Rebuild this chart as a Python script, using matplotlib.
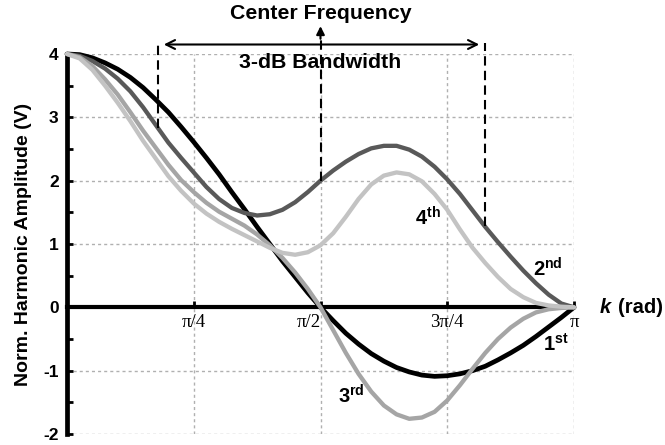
import numpy as np
import matplotlib
matplotlib.use('Agg')
import matplotlib.pyplot as plt
from matplotlib.transforms import blended_transform_factory

# ---------------- data (k in units of pi) ----------------
k_over_pi = [0.000, 0.025, 0.050, 0.075, 0.100, 0.125, 0.150, 0.175, 0.200, 0.225,
             0.250, 0.275, 0.300, 0.325, 0.350, 0.375, 0.400, 0.425, 0.450, 0.475,
             0.500, 0.525, 0.550, 0.575, 0.600, 0.625, 0.650, 0.675, 0.700, 0.725,
             0.750, 0.775, 0.800, 0.825, 0.850, 0.875, 0.900, 0.925, 0.950, 0.975, 1.000]

h1 = [4.00, 3.99, 3.94, 3.86, 3.76, 3.63, 3.47, 3.28, 3.08, 2.85,
      2.61, 2.36, 2.10, 1.82, 1.55, 1.27, 1.00, 0.73, 0.48, 0.23,
      0.00, -0.21, -0.41, -0.58, -0.73, -0.85, -0.95, -1.02, -1.07, -1.09,
      -1.08, -1.05, -1.00, -0.93, -0.83, -0.72, -0.60, -0.46, -0.31, -0.16, 0.00]

h2 = [4.00, 3.97, 3.89, 3.77, 3.61, 3.41, 3.16, 2.88, 2.60, 2.36,
      2.13, 1.90, 1.71, 1.57, 1.49, 1.45, 1.47, 1.54, 1.66, 1.82,
      2.00, 2.16, 2.30, 2.42, 2.51, 2.55, 2.55, 2.49, 2.38, 2.22,
      2.02, 1.79, 1.53, 1.27, 1.03, 0.80, 0.58, 0.38, 0.20, 0.06, 0.00]

h3 = [4.00, 3.95, 3.81, 3.60, 3.36, 3.08, 2.79, 2.52, 2.25, 2.01,
      1.82, 1.65, 1.51, 1.40, 1.29, 1.15, 0.98, 0.78, 0.55, 0.29,
      0.00, -0.36, -0.72, -1.05, -1.33, -1.55, -1.69, -1.76, -1.74, -1.65,
      -1.47, -1.23, -0.97, -0.72, -0.50, -0.32, -0.18, -0.08, -0.03, -0.01, 0.00]

h4 = [4.00, 3.93, 3.75, 3.50, 3.23, 2.94, 2.63, 2.35, 2.07, 1.84,
      1.64, 1.48, 1.35, 1.24, 1.14, 1.04, 0.94, 0.86, 0.83, 0.87,
      0.98, 1.17, 1.43, 1.71, 1.94, 2.08, 2.13, 2.10, 1.99, 1.79,
      1.54, 1.23, 0.94, 0.70, 0.48, 0.29, 0.16, 0.07, 0.03, 0.01, 0.00]

series = [h1, h2, h3, h4]
series_labels = [r'$\mathbf{1^{st}}$', r'$\mathbf{2^{nd}}$', r'$\mathbf{3^{rd}}$', r'$\mathbf{4^{th}}$']
series_colors = ['#000000', '#595959', '#a5a5a5', '#c3c3c3']

xtick_over_pi = [0.25, 0.5, 0.75, 1.0]
xtick_labels = ['\u03c0/4', '\u03c0/2', '3\u03c0/4', '\u03c0']
yticks = [-2, -1, 0, 1, 2, 3, 4]

center_over_pi = 0.5
bw_left_over_pi = 0.18
bw_right_over_pi = 0.824

# ---------------- style ----------------
plt.rcParams['font.family'] = ['Liberation Sans', 'DejaVu Sans']
plt.rcParams['font.weight'] = 'bold'
plt.rcParams['mathtext.fontset'] = 'custom'
plt.rcParams['mathtext.bf'] = 'Liberation Sans:bold'
plt.rcParams['mathtext.rm'] = 'Liberation Sans:bold'

fig = plt.figure(figsize=(6.65, 4.45), dpi=100)
ax = fig.add_axes([67 / 665, 1 - 434 / 445, 507 / 665, 380 / 445])

k = np.array(k_over_pi) * np.pi
lws = [3.4, 3.1, 3.1, 3.1]
for i, (h, c, lw) in enumerate(zip(series, series_colors, lws)):
    ax.plot(k, h, color=c, lw=lw, solid_capstyle='round', solid_joinstyle='round',
            zorder=3 + i, clip_on=False)

ax.set_xlim(0, np.pi)
ax.set_ylim(-2, 4)

# spines
ax.spines['top'].set_visible(False)
ax.spines['right'].set_visible(False)
ax.spines['bottom'].set_position(('data', 0))
ax.spines['bottom'].set_linewidth(3.0)
ax.spines['left'].set_linewidth(3.4)
ax.spines['bottom'].set_zorder(2.5)

# ticks
ax.set_xticks(np.array(xtick_over_pi) * np.pi)
ax.set_xticklabels(xtick_labels, fontfamily='Liberation Serif', fontweight='normal', fontsize=13.5)
ax.set_yticks(yticks)
ax.set_yticklabels([str(v) for v in yticks], fontsize=12.5, fontweight='bold')
ax.set_yticks(np.arange(-1.5, 4, 1.0), minor=True)
ax.tick_params(axis='x', direction='in', length=4, width=2, pad=5)
ax.tick_params(axis='y', which='both', direction='in', length=4, width=2, pad=6)
xl = ax.get_xticklabels()
xl[1].set_ha('right')

ax.grid(True, which='major', linestyle=(0, (2.2, 2.2)), color='#b0b0b0', linewidth=1.0)
ax.set_axisbelow(True)

ax.set_ylabel('Norm. Harmonic Amplitude (V)', fontsize=14, fontweight='bold', labelpad=8)

# x-axis label at right of the zero line
trans = blended_transform_factory(ax.transAxes, ax.transData)
ax.text(1.051, 0, 'k', transform=trans, fontsize=14.5, fontweight='bold', fontstyle='italic',
        ha='left', va='center')
ax.text(1.087, 0, '(rad)', transform=trans, fontsize=14.5, fontweight='bold',
        ha='left', va='center')

# curve labels
label_pos = [(0.939, -0.58), (0.919, 0.60), (0.5345, -1.40), (0.686, 1.41)]
for lab, (u, y) in zip(series_labels, label_pos):
    ax.text(u * np.pi, y, lab, fontsize=14.5, ha='left', va='center', zorder=10)

# bandwidth / center-frequency annotation
h2_arr = np.array(h2)
kc = center_over_pi * np.pi
kl = bw_left_over_pi * np.pi
kr = bw_right_over_pi * np.pi
yl = np.interp(kl, k, h2_arr)
yr = np.interp(kr, k, h2_arr)
yc = np.interp(kc, k, h2_arr)
dash = (0, (4.5, 2.5))
ax.plot([kl, kl], [yl, 4.17], color='k', lw=1.5, linestyle=dash, clip_on=False, zorder=8)
ax.plot([kr, kr], [yr, 4.17], color='k', lw=1.5, linestyle=dash, clip_on=False, zorder=8)
ax.plot([kc, kc], [yc, 4.28], color='k', lw=1.5, linestyle=dash, clip_on=False, zorder=8)
ax.annotate('', xy=(kc, 4.44), xytext=(kc, 4.24), xycoords='data',
            arrowprops=dict(arrowstyle='-|>', color='k', lw=1.5, mutation_scale=12,
                            shrinkA=0, shrinkB=0), annotation_clip=False)
ax.annotate('', xy=(kl, 4.15), xytext=(kr, 4.15), xycoords='data',
            arrowprops=dict(arrowstyle='<->', color='k', lw=1.5, mutation_scale=16,
                            shrinkA=4, shrinkB=4), annotation_clip=False)
ax.text(kc, 4.64, 'Center Frequency', fontsize=15.3, fontweight='bold', ha='center', va='center')
ax.text(kc, 3.86, '3-dB Bandwidth', fontsize=15.3, fontweight='bold', ha='center', va='center',
        zorder=9)

fig.savefig('out.png', dpi=100)
